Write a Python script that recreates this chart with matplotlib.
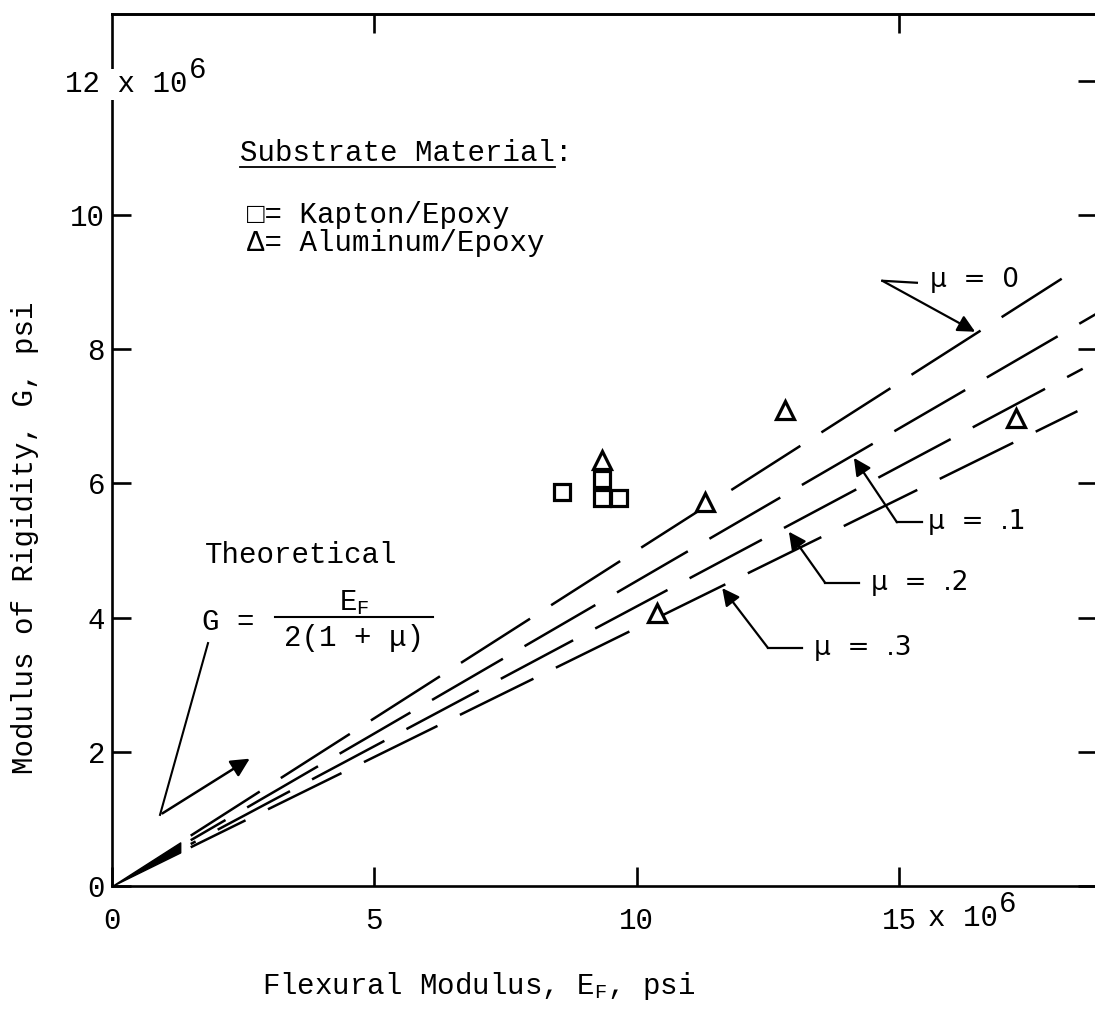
import numpy as np
import matplotlib
matplotlib.use('Agg')
import matplotlib.pyplot as plt

plt.rcParams['lines.scale_dashes'] = False
mono = ['Liberation Mono', 'DejaVu Sans Mono']
sans = ['DejaVu Sans']

# theoretical lines G = E / (2 (1 + mu))
mus = [0.0, 0.1, 0.2, 0.3]
line_end = [18.1, 18.8, 18.5, 18.4]
dash_offset = [0, 30, 55, 15]

# test data (x 10^6 psi)
kapton_E = [8.58, 9.34, 9.66, 9.34]
kapton_G = [5.87, 5.78, 5.78, 6.07]
alum_E = [9.34, 10.39, 11.30, 12.83, 17.23]
alum_G = [6.35, 4.07, 5.72, 7.09, 6.97]

xticks = [0, 5, 10, 15]
xticklabels = ['0', '5', '10', '15']
yticks = [0, 2, 4, 6, 8, 10, 12]
yticklabels = ['0', '2', '4', '6', '8', '10', '']

fig = plt.figure(figsize=(10.95, 10.14), dpi=100)
ax = fig.add_axes([112/1095, 128/1014, 985/1095, 872/1014])
ax.set_xlim(0, 985/52.47)
ax.set_ylim(0, 872/67.1)

for sp in ax.spines.values():
    sp.set_linewidth(1.9)

# solid wedge at origin
xw = np.array([0, 1.3])
ax.fill_between(xw, xw/2.6, xw/2.0, color='black', lw=1.0)

for mu, xe, off in zip(mus, line_end, dash_offset):
    xs = np.array([1.5, xe])
    ax.plot(xs, xs/(2*(1+mu)), color='black', lw=1.8,
            linestyle=(off, (59, 18)), solid_capstyle='butt', dash_capstyle='butt')

ax.plot(kapton_E, kapton_G, 's', ms=11, mfc='white', mec='black', mew=2.3, ls='none')
ax.plot(alum_E, alum_G, '^', ms=13, mfc='white', mec='black', mew=2.3, ls='none')

ax.set_xticks(xticks)
ax.set_xticklabels(xticklabels, family=mono, fontsize=21)
ax.set_yticks(yticks)
ax.set_yticklabels(yticklabels, family=mono, fontsize=21)
ax.tick_params(axis='x', direction='in', length=14, width=1.9, pad=15, top=False)
ax.tick_params(axis='y', direction='in', length=14, width=1.9, pad=5, right=True)
top = ax.secondary_xaxis('top')
top.set_xticks([5, 15])
top.tick_params(direction='in', length=14, width=1.9, labeltop=False)
top.spines['top'].set_linewidth(1.9)

# axis multipliers
t12 = ax.text(-0.9, 11.95, '12 x 10', family=mono, fontsize=21,
              ha='left', va='center', zorder=5, clip_on=False,
              bbox=dict(facecolor='white', edgecolor='none', pad=1))
ax.annotate('6', xy=(1, 0.5), xycoords=t12, xytext=(1, 10), textcoords='offset points',
            family=mono, fontsize=21, ha='left', va='center')
t15 = ax.text(15.55, -0.47, 'x 10', family=mono, fontsize=21,
              ha='left', va='center', clip_on=False)
ax.annotate('6', xy=(1, 0.5), xycoords=t15, xytext=(1, 10), textcoords='offset points',
            family=mono, fontsize=21, ha='left', va='center')

fig.text(25/1095, 1 - 538/1014, 'Modulus of Rigidity, G, psi', family=mono,
         fontsize=21, rotation=90, ha='center', va='center')
fig.text(262/1095, 20/1014, r'Flexural Modulus, $\mathregular{E_F}$, psi',
         family=mono, fontsize=21, ha='left', va='baseline')

# legend block
ax.text(2.44, 10.92, 'Substrate Material:', family=mono, fontsize=21, ha='left', va='center')
ax.plot([2.44, 8.44], [10.72, 10.72], color='black', lw=1.3)
ax.text(2.57, 10.0, '\u25a1= Kapton/Epoxy', family=mono, fontsize=21, ha='left', va='center')
ax.text(2.57, 9.58, '\u0394= Aluminum/Epoxy', family=mono, fontsize=21, ha='left', va='center')

# theoretical formula
ax.text(1.77, 4.93, 'Theoretical', family=mono, fontsize=21, ha='left', va='center')
ax.text(1.72, 3.93, 'G =', family=mono, fontsize=21, ha='left', va='center')
ax.text(4.61, 4.23, r'$\mathregular{E_F}$', family=mono, fontsize=21, ha='center', va='center')
ax.plot([3.11, 6.12], [4.01, 4.01], color='black', lw=1.5)
ax.text(4.61, 3.70, '2(1 + \u03bc)', family=mono, fontsize=21, ha='center', va='center')
ax.plot([1.83, 0.915], [3.62, 1.06], color='black', lw=1.5)
ax.annotate('', xy=(2.67, 1.92), xytext=(0.915, 1.06),
            arrowprops=dict(arrowstyle='-|>', mutation_scale=28, lw=1.8, color='black'))

# mu labels with leaders
labels = ['\u03bc  =  0', '\u03bc  =  .1', '\u03bc  =  .2', '\u03bc  =  .3']
label_xy = [(15.59, 9.03), (15.55, 5.42), (14.47, 4.52), (13.38, 3.55)]
leader_start = [(15.34, 8.99), (15.44, 5.42), (14.24, 4.52), (13.15, 3.55)]
leader_corner = [(14.68, 9.02), (14.96, 5.42), (13.59, 4.52), (12.50, 3.55)]
leader_tip = [(16.45, 8.26), (14.14, 6.38), (12.90, 5.28), (11.63, 4.44)]
for lab, (tx, ty), s, c, t in zip(labels, label_xy, leader_start, leader_corner, leader_tip):
    ax.text(tx, ty, lab, family=sans, fontsize=19, ha='left', va='center')
    ax.plot([s[0], c[0]], [s[1], c[1]], color='black', lw=1.6)
    ax.annotate('', xy=t, xytext=c,
                arrowprops=dict(arrowstyle='-|>', mutation_scale=26, lw=1.6, color='black',
                                shrinkA=0, shrinkB=0))

fig.savefig('out.png', dpi=100)
